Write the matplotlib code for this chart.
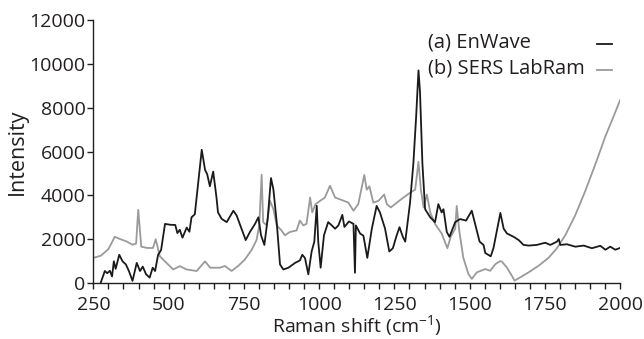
import matplotlib
matplotlib.use("Agg")
import matplotlib.pyplot as plt
from matplotlib.ticker import MultipleLocator
from matplotlib.lines import Line2D

plt.rcParams['font.family'] = ['Open Sans', 'DejaVu Sans']
plt.rcParams['mathtext.fontset'] = 'custom'
plt.rcParams['mathtext.rm'] = 'Open Sans'
plt.rcParams['mathtext.it'] = 'Open Sans'

# (a) EnWave
enwave_x = [274, 288, 296, 305, 312, 318, 324, 336, 347, 358, 368, 380, 394, 405, 414, 425,
            437, 447, 455, 465, 475, 488, 505, 522, 529, 537, 546, 560, 569, 576, 587, 598,
            610, 621, 628, 637, 648, 659, 664, 676, 693, 715, 726, 742, 756, 770, 787, 798,
            807, 818, 829, 840, 848, 859, 870, 881, 898, 920, 936, 944, 953, 964, 975, 984,
            992, 997, 1005, 1016, 1030, 1042, 1053, 1064, 1077, 1084, 1099, 1114, 1119, 1122,
            1136, 1147, 1160, 1175, 1191, 1202, 1219, 1233, 1245, 1256, 1267, 1278, 1286,
            1302, 1313, 1322, 1330, 1335, 1343, 1352, 1369, 1385, 1396, 1407, 1413, 1424,
            1433, 1452, 1468, 1488, 1507, 1518, 1533, 1546, 1552, 1570, 1579, 1596, 1602,
            1613, 1624, 1646, 1663, 1679, 1696, 1723, 1751, 1768, 1790, 1796, 1801, 1823,
            1851, 1879, 1906, 1934, 1951, 1967, 1984, 1997]
enwave_y = [0, 550, 450, 560, 300, 995, 650, 1290, 990, 850, 550, 100, 920, 550, 750, 400,
            250, 700, 550, 1290, 1510, 2700, 2660, 2650, 2280, 2430, 2070, 2530, 2340, 3000,
            3140, 4560, 6080, 5160, 4970, 4415, 5085, 3900, 3225, 2930, 2780, 3300, 3080,
            2480, 1960, 2330, 2700, 3000, 2180, 1740, 2930, 4790, 4270, 2780, 850, 620, 700,
            920, 1030, 1290, 1140, 400, 1440, 1890, 3525, 1890, 700, 2180, 2780, 2630, 2480,
            2630, 3110, 2560, 2810, 2700, 470, 2630, 2260, 2160, 1150, 2480, 3520, 3220,
            2480, 1440, 1590, 2110, 2550, 2110, 1890, 3670, 5460, 7540, 9700, 8730, 5460,
            3370, 3000, 2780, 3600, 3220, 3370, 2330, 2110, 2780, 2920, 2850, 3300, 2700,
            1890, 1740, 1370, 1220, 1590, 2780, 3200, 2480, 2260, 2110, 1960, 1740, 1710,
            1740, 1840, 1740, 1890, 2010, 1740, 1770, 1660, 1710, 1590, 1700, 1520, 1660,
            1520, 1590]

# (b) SERS LabRam
sers_x = [250, 275, 300, 321, 340, 360, 380, 392, 399, 409, 430, 448, 457, 471, 493, 515,
          537, 560, 593, 621, 638, 670, 687, 709, 731, 753, 776, 792, 801, 809, 814, 826,
          837, 848, 859, 875, 886, 903, 925, 936, 947, 958, 970, 977, 988, 1003, 1019, 1036,
          1053, 1075, 1097, 1114, 1130, 1150, 1158, 1167, 1180, 1197, 1216, 1225, 1238,
          1258, 1280, 1302, 1319, 1330, 1338, 1347, 1358, 1369, 1385, 1407, 1426, 1437,
          1452, 1457, 1466, 1479, 1496, 1507, 1524, 1552, 1568, 1585, 1601, 1607, 1624,
          1640, 1649, 1668, 1696, 1729, 1762, 1790, 1818, 1851, 1884, 1917, 1951, 1978, 2000]
sers_y = [1150, 1250, 1550, 2110, 2000, 1900, 1750, 1800, 3340, 1660, 1600, 1600, 2000, 1220,
          920, 620, 770, 620, 550, 990, 700, 700, 780, 550, 780, 1070, 1520, 1960, 2630,
          4940, 2780, 2630, 3750, 3370, 2630, 2400, 2180, 2330, 2400, 2850, 2630, 2700,
          3900, 3225, 3600, 3750, 3900, 4440, 3900, 3790, 3670, 3300, 3600, 4930, 4260,
          4410, 3670, 3750, 4040, 3600, 3450, 3670, 3900, 4120, 4260, 5530, 4260, 3450,
          4040, 3220, 2700, 2260, 1590, 2110, 2480, 3520, 2330, 1150, 410, 190, 490, 640,
          560, 860, 1000, 980, 700, 340, 110, 260, 490, 790, 1150, 1590, 2190, 3100, 4200,
          5400, 6700, 7600, 8350]

series_labels = ["(a) EnWave", "(b) SERS LabRam"]
x_ticks = [250, 500, 750, 1000, 1250, 1500, 1750, 2000]
y_ticks = [0, 2000, 4000, 6000, 8000, 10000, 12000]

text_color = "#231f20"
black_col = "#1a1a1a"
gray_col = "#9a9a9a"

fig = plt.figure(figsize=(6.44, 3.39), dpi=100)
ax = fig.add_axes([0.145, 0.165, 0.818, 0.776])

ax.plot(enwave_x, enwave_y, color=black_col, lw=1.3, zorder=3)
ax.plot(sers_x, sers_y, color=gray_col, lw=1.3, zorder=2)

ax.set_xlim(250, 2000)
ax.set_ylim(0, 12000)
ax.set_xticks(x_ticks)
ax.set_yticks(y_ticks)
ax.xaxis.set_minor_locator(MultipleLocator(50))
for s in ["top", "right"]:
    ax.spines[s].set_visible(False)
for s in ["left", "bottom"]:
    ax.spines[s].set_color(text_color)
    ax.spines[s].set_linewidth(1.0)
ax.tick_params(axis="both", which="major", length=4, width=1.0, color=text_color,
               labelsize=14, labelcolor=text_color)
ax.tick_params(axis="x", which="major", pad=5)
ax.tick_params(axis="y", which="major", pad=1.5)
ax.tick_params(axis="x", which="minor", length=4, width=1.0, color=text_color)

ax.set_xlabel(r"Raman shift (cm$^{-1}$)", fontsize=14, color=text_color, labelpad=0)
ax.set_ylabel("Intensity", fontsize=15.5, color=text_color, labelpad=1)

# legend drawn as text + short line handles
leg_text_y = [0.876, 0.799]
leg_line_y = [0.870, 0.794]
cols = [black_col, gray_col]
for lab, ty, ly, c in zip(series_labels, leg_text_y, leg_line_y, cols):
    fig.text(0.665, ty, lab, fontsize=14.5, color=text_color, va="center", ha="left")
    fig.add_artist(Line2D([0.927, 0.950], [ly, ly], transform=fig.transFigure,
                          color=c, lw=1.3))

fig.savefig("out.png", dpi=100)
